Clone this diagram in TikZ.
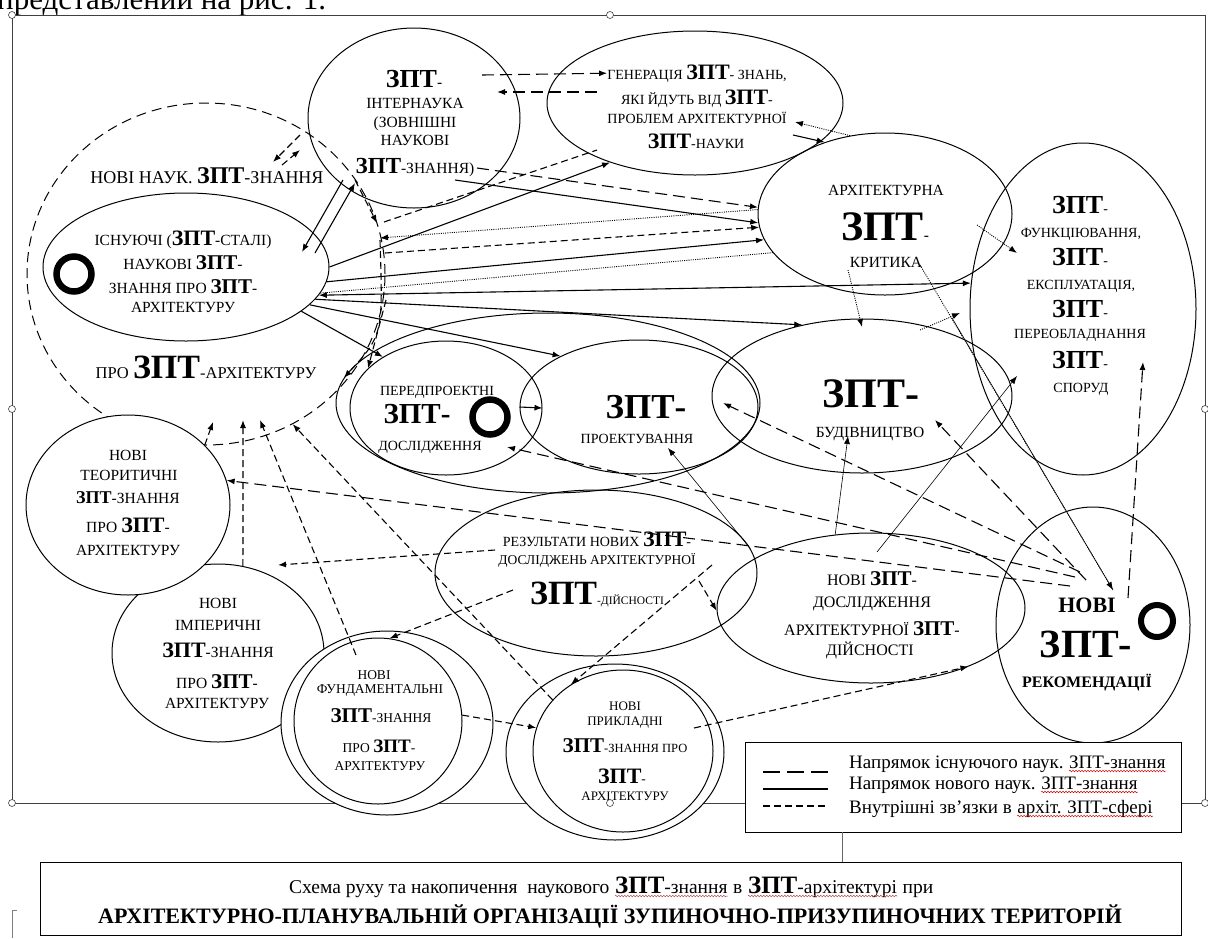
\documentclass[tikz,border=0pt]{standalone}
\usepackage{fontspec}
\setmainfont{Liberation Serif}
\usetikzlibrary{shapes.geometric, arrows.meta, decorations.pathmorphing}

\newcommand{\zpt}[1]{{\fontsize{#1}{#1}\selectfont\bfseries ЗПТ}}
\newcommand{\zptd}[1]{{\fontsize{#1}{#1}\selectfont\bfseries ЗПТ-}}
\newcommand{\prob}{\kern0.27em}

\begin{document}
\begin{tikzpicture}[x=1pt, y=-1pt,
  >={Latex[length=8pt,width=6pt]},
  ell/.style={draw, ellipse, inner sep=0pt, line width=1pt},
  tx/.style={anchor=base, inner sep=0pt, font=\fontsize{15.5}{15.5}\selectfont},
  txm/.style={anchor=base, inner sep=0pt, font=\fontsize{14}{14}\selectfont},
  txs/.style={anchor=base, inner sep=0pt, font=\fontsize{13.5}{13.5}\selectfont},
  lgt/.style={anchor=base west, inner sep=0pt, font=\fontsize{19}{19}\selectfont},
  cpt/.style={anchor=base west, inner sep=0pt, font=\fontsize{19.5}{19.5}\selectfont},
  kilce/.style={draw, circle, line width=6.5pt, minimum size=35pt, inner sep=0pt},
  isnuv/.style={line width=1.1pt, dash pattern=on 12pt off 6pt},
  nove/.style={line width=1.1pt},
  vnutr/.style={line width=1.1pt, dash pattern=on 7pt off 4pt},
  tonka/.style={line width=0.6pt},
  punkt/.style={line width=0.9pt, dash pattern=on 1pt off 1.2pt},
  hvyl/.style={red!80!black, line width=0.5pt, decorate, decoration={snake, amplitude=0.8pt, segment length=3pt}},
]
\useasboundingbox (0,0) rectangle (1208,938);
% obrizanyi riadok tekstu vgori
\node[anchor=base west, inner sep=0pt, font=\fontsize{31}{31}\selectfont] (rys) at (-3,9) {представлений на рис. 1.};
% ramka polotna
\draw[black!75, line width=1pt] (12,15) rectangle (1205,803);

% elipsy
\node[ell, dash pattern=on 10pt off 6pt, minimum width=358pt, minimum height=342pt] (nauk) at (206,274) {};
\node[ell, minimum width=286pt, minimum height=148pt] (isn) at (186,267) {};
\node[ell, minimum width=212pt, minimum height=180pt] (intn) at (414,118) {};
\node[ell, minimum width=296pt, minimum height=144pt] (gen) at (695,103) {};
\node[ell, minimum width=254pt, minimum height=162pt] (krit) at (885,214) {};
\node[ell, minimum width=226pt, minimum height=332pt] (fun) at (1083,309) {};
\node[ell, minimum width=300pt, minimum height=154pt] (bud) at (862,396) {};
\node[ell, minimum width=238pt, minimum height=134pt] (proekt) at (639,407) {};
\node[ell, minimum width=192pt, minimum height=134pt] (pered) at (446,408) {};
\node[ell, minimum width=424pt, minimum height=180pt] (pp) at (548,403) {};
\node[ell, minimum width=212pt, minimum height=178pt] (emp) at (218,653) {};
\node[ell, fill=white, minimum width=204pt, minimum height=180pt] (teor) at (128,505) {};
\node[ell, fill=white, minimum width=212pt, minimum height=184pt] (fund) at (387,723) {};
\node[ell, minimum width=168pt, minimum height=166pt] (fundi) at (378,721) {};
\node[ell, fill=white, minimum width=218pt, minimum height=176pt] (prykl) at (615,752) {};
\node[ell, minimum width=180pt, minimum height=162pt] (prykli) at (623,751) {};
\node[ell, minimum width=322pt, minimum height=166pt] (rez) at (596,573) {};
\node[ell, minimum width=308pt, minimum height=150pt] (nd) at (871,608) {};
\node[ell, minimum width=194pt, minimum height=236pt] (rek) at (1093,625) {};
% kiltsia
\node[kilce] (k1) at (74,274) {};
\node[kilce] (k2) at (490,417) {};
\node[kilce, line width=6pt, minimum size=32pt] (k3) at (1157,621) {};

% teksty
\node[tx, font=\fontsize{18}{18}\selectfont] (nauk1) at (207,183) {НОВІ НАУК. \zpt{24}-ЗНАННЯ};
\node[tx, font=\fontsize{16.5}{16.5}\selectfont] (nauk2) at (206,378) {ПРО \zpt{34}-АРХІТЕКТУРУ};
\node[tx] (isn1) at (183,245) {ІСНУЮЧІ (\zpt{22}-СТАЛІ)};
\node[tx] (isn2) at (183,269) {НАУКОВІ \zpt{21}-};
\node[tx] (isn3) at (183,293) {ЗНАННЯ ПРО \zpt{21}-};
\node[tx] (isn4) at (183,312) {АРХІТЕКТУРУ};
\node[tx] (intn1) at (414,87) {\zpt{26}-};
\node[tx] (intn2) at (415,108) {ІНТЕРНАУКА};
\node[tx] (intn3) at (415,127) {(ЗОВНІШНІ};
\node[tx] (intn4) at (415,145) {НАУКОВІ};
\node[tx] (intn5) at (415,173) {\zpt{23}-ЗНАННЯ)};
\node[txm] (gen1) at (697,79) {ГЕНЕРАЦІЯ \zpt{22}- ЗНАНЬ,};
\node[txm] (gen2) at (697,104) {ЯКІ ЙДУТЬ ВІД \zpt{22}-};
\node[txm] (gen3) at (697,123) {ПРОБЛЕМ АРХІТЕКТУРНОЇ};
\node[txm] (gen4) at (696,148) {\zpt{22}-НАУКИ};
\node[tx] (krit1) at (886,195) {АРХІТЕКТУРНА};
\node[tx] (krit2) at (885,240) {\zpt{42}-};
\node[tx] (krit3) at (886,267) {КРИТИКА};
\node[txm] (fun1) at (1080,213) {\zpt{26}-};
\node[txm] (fun2) at (1081,237) {ФУНКЦІЮВАННЯ,};
\node[txm] (fun3) at (1080,265) {\zpt{26}-};
\node[txm] (fun4) at (1081,289) {ЕКСПЛУАТАЦІЯ,};
\node[txm] (fun5) at (1080,317) {\zpt{26}-};
\node[txm] (fun6) at (1080,338) {ПЕРЕОБЛАДНАННЯ};
\node[txm] (fun7) at (1080,368) {\zpt{26}-};
\node[txm] (fun8) at (1081,392) {СПОРУД};
\node[tx] (bud1) at (871,407) {\zptd{42}};
\node[tx] (bud2) at (870,437) {БУДІВНИЦТВО};
\node[txm] (pro1) at (646,418) {\zptd{35}};
\node[txm] (pro2) at (637,443) {ПРОЕКТУВАННЯ};
\node[txm] (per1) at (437,395) {ПЕРЕДПРОЕКТНІ};
\node[txm] (per2) at (417,423) {\zptd{29}};
\node[txm] (per3) at (430,450) {ДОСЛІДЖЕННЯ};
\node[tx] (teo1) at (128,460) {НОВІ};
\node[tx] (teo2) at (129,480) {ТЕОРИТИЧНІ};
\node[tx] (teo3) at (128,503) {\zpt{18}-ЗНАННЯ};
\node[tx] (teo4) at (128,532) {ПРО \zpt{22}-};
\node[tx] (teo5) at (128,555) {АРХІТЕКТУРУ};
\node[tx] (emp1) at (218,608) {НОВІ};
\node[tx] (emp2) at (218,630) {ІМПЕРИЧНІ};
\node[tx] (emp3) at (218,657) {\zpt{22}-ЗНАННЯ};
\node[tx] (emp4) at (217,688) {ПРО \zpt{21}-};
\node[tx] (emp5) at (217,708) {АРХІТЕКТУРУ};
\node[txs] (fund1) at (374,679) {НОВІ};
\node[txs] (fund2) at (380,693) {ФУНДАМЕНТАЛЬНІ};
\node[txs] (fund3) at (381,722) {\zpt{21}-ЗНАННЯ};
\node[txs] (fund4) at (379,752) {ПРО \zpt{19}-};
\node[txs] (fund5) at (380,770) {АРХІТЕКТУРУ};
\node[txs, font=\fontsize{13}{13}\selectfont] (pr1) at (625,710) {НОВІ};
\node[txs, font=\fontsize{13}{13}\selectfont] (pr2) at (625,725) {ПРИКЛАДНІ};
\node[txs, font=\fontsize{12.5}{12.5}\selectfont] (pr3) at (625,752) {\zpt{21}-ЗНАННЯ ПРО};
\node[txs] (pr4) at (622,783) {\zpt{22}-};
\node[txs, font=\fontsize{13}{13}\selectfont] (pr5) at (625,800) {АРХІТЕКТУРУ};
\node[txm] (rez1) at (597,546) {РЕЗУЛЬТАТИ НОВИХ \zpt{22}-};
\node[txm, font=\fontsize{13.5}{13.5}\selectfont] (rez2) at (597,564) {ДОСЛІДЖЕНЬ АРХІТЕКТУРНОЇ};
\node[txm, font=\fontsize{11.5}{11.5}\selectfont] (rez3) at (597,604) {\zpt{34}-ДІЙСНОСТІ};
\node[tx, font=\fontsize{16}{16}\selectfont] (nd1) at (872,585) {НОВІ \zpt{21}-};
\node[tx, font=\fontsize{16}{16}\selectfont] (nd2) at (872,607) {ДОСЛІДЖЕННЯ};
\node[tx, font=\fontsize{16}{16}\selectfont] (nd3) at (872,635) {АРХІТЕКТУРНОЇ \zpt{21}-};
\node[tx, font=\fontsize{16}{16}\selectfont] (nd4) at (870,655) {ДІЙСНОСТІ};
\node[tx, font=\fontsize{22}{22}\selectfont\bfseries] (rek1) at (1087,612) {НОВІ};
\node[tx] (rek2) at (1086,657) {\zptd{40}};
\node[tx, font=\fontsize{16}{16}\selectfont\bfseries] (rek3) at (1087,687) {РЕКОМЕНДАЦІЇ};

% vilni kintsi zviazkiv
\coordinate (a1) at (482,75);
\coordinate (a2) at (597,92);   \coordinate (b2) at (497,92);
\coordinate (b3) at (795,122);  \coordinate (a4) at (793,135);
\coordinate (a5) at (300,135);  \coordinate (b5) at (273,162);
\coordinate (a6) at (282,165);  \coordinate (b6) at (300,150);
\coordinate (a7) at (343,180);  \coordinate (b7) at (302,252);
\coordinate (a8) at (315,253);  \coordinate (b8) at (355,183);
\coordinate (a9) at (355,180);  \coordinate (b9) at (377,223);
\coordinate (a10) at (384,222); \coordinate (b10) at (597,150);
\coordinate (a12) at (455,180); \coordinate (a13) at (477,168);
\coordinate (b14) at (380,238); \coordinate (a15) at (385,253);
\coordinate (a22) at (380,240); \coordinate (a23) at (386,300);
\coordinate (a25) at (356,655); \coordinate (b25) at (260,420);
\coordinate (b26) at (243,420); \coordinate (b27) at (213,422);
\coordinate (r1) at (1080,572); \coordinate (r2) at (1086,580);
\coordinate (r3) at (1075,577); \coordinate (r4) at (1070,586);
\coordinate (b28) at (723,403); \coordinate (b29) at (935,420);
\coordinate (b30) at (507,447);
\coordinate (a32) at (495,550); \coordinate (b32) at (278,565);
\coordinate (a33) at (513,590); \coordinate (a35) at (694,728);
\coordinate (a36) at (712,565); \coordinate (a45) at (699,581);
\coordinate (a37) at (848,270); \coordinate (b37) at (862,327);
\coordinate (a38) at (977,225); \coordinate (b38) at (1017,253);
\coordinate (a39) at (920,330); \coordinate (b39) at (960,313);
\coordinate (a40) at (920,265); \coordinate (a40b) at (952,318);
\coordinate (b40) at (1113,590);
\coordinate (b41) at (848,436);
\coordinate (a42) at (877,552); \coordinate (b42) at (1017,376);
\coordinate (b43) at (668,448);
\coordinate (a44) at (1128,598); \coordinate (b44) at (1143,362);

% zviazky vgori
\draw[->, isnuv] (a1) -- (gen1.west);
\draw[->, isnuv] (a2) -- (b2);
\draw[->, punkt] (krit.114) -- (b3);
\draw[->, nove] (a4) -- (krit.130);
\draw[->, vnutr] (a5) -- (b5);
\draw[->, vnutr] (a6) -- (b6);
\draw[->, nove] (a7) -- (b7);
\draw[->, nove] (a8) -- (b8);
\draw[->, vnutr] (a9) -- (b9);
\draw[vnutr] (a10) -- (b10);
% puchok vid isnuiuchykh znan
\draw[->, nove] (isn.0) -- (gen.215);
\draw[->, nove] (a12) -- (krit.184);
\draw[->, isnuv] (a13) -- (krit.177);
\draw[->, punkt] (krit.178) -- (b14);
\draw[->, vnutr] (a15) -- (krit.186);
\draw[->, nove] (isn.-6) -- (krit.192);
\draw[punkt] (isn.-11) -- (krit.199);
\draw[<->, nove] (isn.-12) -- (fun.167);
\draw[->, nove] (isn.-14) -- (bud.130);
\draw[->, nove] (isn.-17) -- (proekt.147);
\draw[->, nove] (isn.-21) -- (pered.141);
\draw[->, vnutr] (a22) .. controls (383,335) .. (pp.173);
\draw[->, vnutr] (a23) -- (pered.153);
\draw[->, nove] (proekt.west) -- (pered.east);
% novi znannia do nauk
\draw[->, vnutr] (prykli.144) -- (nauk.-60);
\draw[->, vnutr] (a25) -- (b25);
\draw[->, vnutr] (emp.74) -- (b26);
\draw[->, vnutr] (teor.38) -- (b27);
% vid rekomendatsii
\draw[->, isnuv] (r1) -- (b28);
\draw[->, isnuv] (r2) -- (b29);
\draw[->, isnuv] (r3) -- (b30);
\draw[->, isnuv] (r4) -- (teor.14);
\draw[->, isnuv] (a44) -- (b44);
% vid rezultativ
\draw[->, vnutr] (a32) -- (b32);
\draw[->, vnutr] (a33) -- (fundi.82);
\draw[->, vnutr] (fundi.4) -- (prykli.165);
\draw[->, vnutr] (a35) -- (nd.-31);
\draw[->, vnutr] (a36) -- (prykli.128);
\draw[->, vnutr] (a45) -- (nd.181);
% tonki
\draw[->, punkt] (a37) -- (b37);
\draw[->, punkt] (a38) -- (b38);
\draw[->, punkt] (a39) -- (b39);
\draw[->, punkt] (a40) -- (b40);
\draw[tonka] (a40b) -- (b40);
\draw[->, tonka] (nd.116) -- (b41);
\draw[->, tonka] (a42) -- (b42);
\draw[->, tonka] (rez.9) -- (b43);

% lehenda
\node[draw, fill=white, line width=1pt, anchor=north west, minimum width=436pt, minimum height=90pt, inner sep=0pt] (leg) at (745,742) {};
\draw[isnuv, dash pattern=on 17pt off 7pt] (763,772) -- (828,772);
\draw[nove] (763,789) -- (828,789);
\draw[vnutr] (763,806) -- (828,806);
\node[lgt] (leg1) at (849,768) {Напрямок існуючого наук.\prob};
\node[lgt] (leg1z) at (leg1.base east) {ЗПТ-знання};
\node[lgt] (leg2) at (849,789) {Напрямок нового наук.\prob};
\node[lgt] (leg2z) at (leg2.base east) {ЗПТ-знання};
\node[lgt] (leg3) at (849,813) {Внутрішні зв’язки в\prob};
\node[lgt] (leg3z) at (leg3.base east) {архіт.};
\node[lgt] (leg3s) at (leg3z.base east) {\prob ЗПТ-сфері};
\draw[hvyl] ([yshift=-3pt]leg1z.base west) -- ([yshift=-3pt]leg1z.base east);
\draw[hvyl] ([yshift=-3pt]leg2z.base west) -- ([yshift=-3pt]leg2z.base east);
\draw[hvyl] ([yshift=-3pt]leg3z.base west) -- ([yshift=-3pt]leg3s.base east);
% markery polotna
\foreach \p in {(12,15),(610,15),(12,409),(1205,409),(12,803),(610,803),(1205,803)}
  \draw[black!75, fill=white, line width=0.6pt] \p circle (3.5pt);
% pidpys
\node[draw, line width=1pt, anchor=north west, minimum width=1141pt, minimum height=73pt, inner sep=0pt] (cap) at (40,862) {};
\coordinate (lk) at (842,832);
\draw[black!60, line width=0.6pt] (lk) -- (lk |- cap.north);
\node[cpt] (cap1a) at (289,893) {Схема руху та накопичення \ наукового\prob};
\node[cpt] (cap1b) at (cap1a.base east) {\zpt{25}-знання};
\node[cpt] (cap1c) at (cap1b.base east) {\prob в\prob};
\node[cpt] (cap1d) at (cap1c.base east) {\zpt{25}-архітектурі};
\node[cpt] (cap1e) at (cap1d.base east) {\prob при};
\draw[hvyl, red!40!gray] ([yshift=-3pt]cap1b.base west) -- ([yshift=-3pt]cap1b.base east);
\draw[hvyl, red!40!gray] ([yshift=-3pt]cap1d.base west) -- ([yshift=-3pt]cap1d.base east);
\node[anchor=base, inner sep=0pt, font=\fontsize{22}{22}\selectfont\bfseries] (cap2) at (610,923) {АРХІТЕКТУРНО-ПЛАНУВАЛЬНІЙ ОРГАНІЗАЦІЇ ЗУПИНОЧНО-ПРИЗУПИНОЧНИХ ТЕРИТОРІЙ};
\draw[black!50, line width=0.6pt] (12,938) -- (12,910) -- (17,910);
\end{tikzpicture}
\end{document}
